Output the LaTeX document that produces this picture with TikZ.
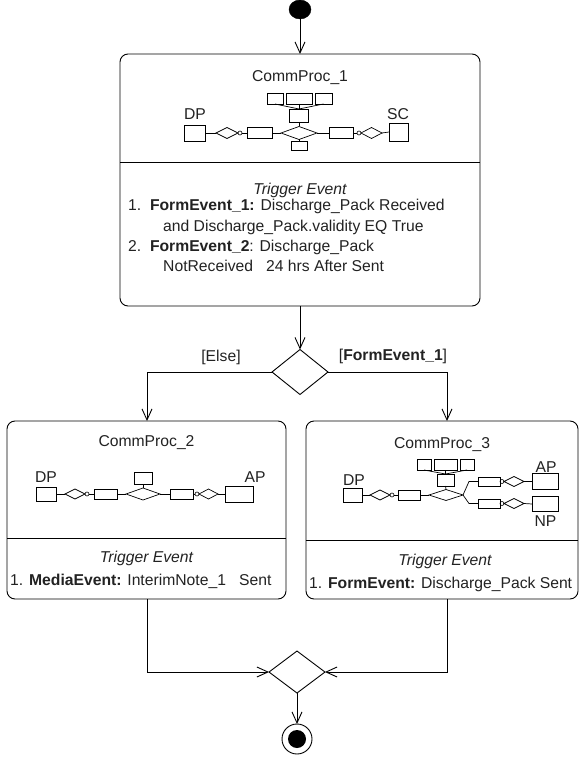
\documentclass[tikz,border=0pt]{standalone}
\usepackage{fontspec}
\setmainfont{Liberation Sans}
\usetikzlibrary{arrows.meta,shapes.geometric}
\definecolor{txt}{HTML}{222222}
\newcommand\fs{\fontsize{15.7}{18}\selectfont}
\newcommand\erR[5]{\node[er, minimum width=#4, minimum height=#5] (#1) at (#2,#3) {};}
\tikzset{
 every node/.style={font=\fs, text=txt},
 box/.style={draw, rounded corners=8pt, line width=0.9pt, inner sep=0pt, outer sep=0pt},
 er/.style={draw, rectangle, line width=0.7pt, inner sep=0pt, outer sep=0pt},
 rel/.style={draw, diamond, line width=0.7pt, inner sep=0pt, outer sep=0pt},
 card/.style={draw, circle, line width=0.6pt, inner sep=0pt, outer sep=0pt, minimum size=4pt},
 decide/.style={draw, diamond, line width=0.9pt, inner sep=0pt, outer sep=0pt, minimum width=56pt, minimum height=45pt},
 ln/.style={line width=0.7pt},
 arr/.style={line width=0.9pt, -{Straight Barb[length=11pt,width=10pt,line width=0.9pt]}},
 flow/.style={line width=0.9pt},
 lbl/.style={anchor=base, inner sep=0pt},
 txtl/.style={anchor=base west, inner sep=0pt},
}
\begin{document}
\begin{tikzpicture}[x=1pt,y=-1pt]
\useasboundingbox (0,0) rectangle (584,759);

% start
\node[draw, fill=black, ellipse, minimum width=22pt, minimum height=19pt, inner sep=0pt, outer sep=0pt] (start) at (300,9.5) {};

% main boxes
\node[box, minimum width=360pt, minimum height=252pt] (b1) at (300,180) {};
\node[box, minimum width=279pt, minimum height=178pt] (b2) at (146.5,510) {};
\node[box, minimum width=272pt, minimum height=178pt] (b3) at (442,510) {};
\coordinate (y1) at (0,162);
\coordinate (y2) at (0,538);
\coordinate (y3) at (0,540);
\draw[flow] (b1.west |- y1) -- (b1.east |- y1);
\draw[flow] (b2.west |- y2) -- (b2.east |- y2);
\draw[flow] (b3.west |- y3) -- (b3.east |- y3);

% ---- box 1 content
\node[lbl] (n1) at (300,82) {CommProc\_1};
\node[lbl] (dpl1) at (195,119.5) {DP};
\node[lbl] (scl1) at (398,119.5) {SC};
\erR{dpA}{194.5}{133}{21}{16}
\node[rel, minimum width=22pt, minimum height=11pt] (dA) at (227,133) {};
\node[card] (cA) at (240,133) {};
\erR{rA}{259.5}{133}{25}{11}
\node[rel, minimum width=36pt, minimum height=13pt] (DA) at (299,133) {};
\erR{rB}{341}{133}{24}{11}
\node[card] (cB) at (359,133) {};
\node[rel, minimum width=21pt, minimum height=11pt] (dB) at (371.5,133) {};
\erR{scA}{398.5}{132}{19}{18}
\erR{TA}{299}{115.5}{19}{13}
\erR{tA1}{275}{98.5}{16}{11}
\erR{tA2}{299}{98.5}{26}{11}
\erR{tA3}{323.5}{98.5}{17}{11}
\erR{BA}{299}{145.5}{16}{9}
\draw[ln] (dpA.east) -- (dA.west);
\draw[ln] (cA.east) -- (rA.west);
\draw[ln] (rA.east) -- (DA.west);
\draw[ln] (DA.east) -- (rB.west);
\draw[ln] (rB.east) -- (cB.west);
\draw[ln] (dB.east) -- (scA.west);
\draw[ln] (TA.south) -- (DA.north);
\draw[ln] (DA.south) -- (BA.north);
\draw[ln] (tA1.south) -- (TA.north);
\draw[ln] (tA2.south) -- (TA.north);
\draw[ln] (tA3.south) -- (TA.north);

\node[lbl] (te1) at (300,194.5) {\itshape Trigger Event};
\node[txtl] (l11) at (128,211) {1.\ \ \textbf{FormEvent\_1:} Discharge\_Pack Received};
\node[txtl] (l12) at (163,231) {and Discharge\_Pack.validity EQ True};
\node[txtl] (l13) at (128,251.5) {2.\ \ \textbf{FormEvent\_2}: Discharge\_Pack};
\node[txtl] (l14) at (163,271.5) {NotReceived\ \ \ 24 hrs After Sent};

% ---- box 2 content
\node[lbl] (n2) at (146.5,446) {CommProc\_2};
\node[lbl] (dpl2) at (46,482) {DP};
\node[lbl] (apl2) at (255,482) {AP};
\erR{dp2}{46}{494}{20}{14}
\node[rel, minimum width=20pt, minimum height=10pt] (d2a) at (75,494) {};
\node[card] (c2a) at (87,494) {};
\erR{r2a}{105.5}{494}{23}{10}
\node[rel, minimum width=34pt, minimum height=12pt] (D2) at (143,494) {};
\erR{T2}{143}{478}{18}{12}
\erR{r2b}{181.5}{494}{23}{10}
\node[card] (c2b) at (197,494) {};
\node[rel, minimum width=19pt, minimum height=10pt] (d2b) at (208.5,494) {};
\erR{ap2}{239}{494}{28}{16}
\draw[ln] (dp2.east) -- (d2a.west);
\draw[ln] (c2a.east) -- (r2a.west);
\draw[ln] (r2a.east) -- (D2.west);
\draw[ln] (D2.east) -- (r2b.west);
\draw[ln] (r2b.east) -- (c2b.west);
\draw[ln] (d2b.east) -- (ap2.west);
\draw[ln] (T2.south) -- (D2.north);
\node[lbl] (te2) at (146.5,562) {\itshape Trigger Event};
\node[txtl] (l21) at (10,585) {1. \textbf{MediaEvent:} InterimNote\_1\ \ \ Sent};

% ---- box 3 content
\node[lbl] (n3) at (442,448) {CommProc\_3};
\node[lbl] (dpl3) at (354,485) {DP};
\node[lbl] (apl3) at (546,472) {AP};
\node[lbl] (npl3) at (545.5,526) {NP};
\erR{dp3}{352.5}{495}{19}{14}
\node[rel, minimum width=20pt, minimum height=10pt] (d3a) at (380,495) {};
\node[card] (c3a) at (392,495) {};
\erR{r3a}{409}{495}{22}{10}
\node[rel, minimum width=34pt, minimum height=11pt] (D3) at (446,495) {};
\erR{T3}{445.5}{480}{17}{12}
\erR{t3a}{424}{464.5}{14}{11}
\erR{t3b}{445.5}{464.5}{23}{11}
\erR{t3c}{467}{464.5}{14}{11}
\coordinate (k1) at (469,481.5);
\coordinate (k2) at (469,503.5);
\erR{r3b}{489}{481.5}{22}{9}
\node[card] (c3b) at (502,481.5) {};
\node[rel, minimum width=20pt, minimum height=10pt] (d3b) at (514,481.5) {};
\erR{ap3}{545}{481.5}{26}{16}
\erR{r3c}{489}{503.5}{22}{9}
\node[card] (c3c) at (502,503.5) {};
\node[rel, minimum width=20pt, minimum height=10pt] (d3c) at (514,503.5) {};
\erR{np3}{545}{504}{26}{15}
\draw[ln] (dp3.east) -- (d3a.west);
\draw[ln] (c3a.east) -- (r3a.west);
\draw[ln] (r3a.east) -- (D3.west);
\draw[ln] (T3.south) -- (D3.north);
\draw[ln] (t3a.south) -- (T3.north);
\draw[ln] (t3b.south) -- (T3.north);
\draw[ln] (t3c.south) -- (T3.north);
\draw[ln] (D3.east) -- (k1) -- (r3b.west);
\draw[ln] (D3.east) -- (k2) -- (r3c.west);
\draw[ln] (r3b.east) -- (c3b.west);
\draw[ln] (d3b.east) -- (ap3.west);
\draw[ln] (r3c.east) -- (c3c.west);
\draw[ln] (d3c.east) -- (np3.west);
\node[lbl] (te3) at (445,565) {\itshape Trigger Event};
\node[txtl] (l31) at (309,588) {1. \textbf{FormEvent:} Discharge\_Pack Sent};

% ---- control flow
\node[decide] (dec) at (300,372) {};
\node[decide, minimum height=42pt] (mg) at (297,672) {};
\node[draw, circle, line width=0.9pt, minimum size=30pt, inner sep=0pt, outer sep=0pt] (fin) at (297,739) {};
\fill (fin.center) circle (9);
\coordinate (b3in) at (447,421);
\coordinate (b3out) at (447,599);
\coordinate (b2in) at (147,421);
\coordinate (b2out) at (147,599);

\draw[arr] (start) -- (b1.north);
\draw[arr] (b1.south) -- (dec.north);
\draw[arr] (dec.west) -| (b2in);
\draw[arr] (dec.east) -| (b3in);
\draw[arr] (b2out) |- (mg.west);
\draw[arr] (b3out) |- (mg.east);
\draw[arr] (mg.south) -- (fin.north);

\node[lbl] (else) at (221,361) {[Else]};
\node[lbl] (fe1) at (393,360) {[\textbf{FormEvent\_1}]};
\end{tikzpicture}
\end{document}
